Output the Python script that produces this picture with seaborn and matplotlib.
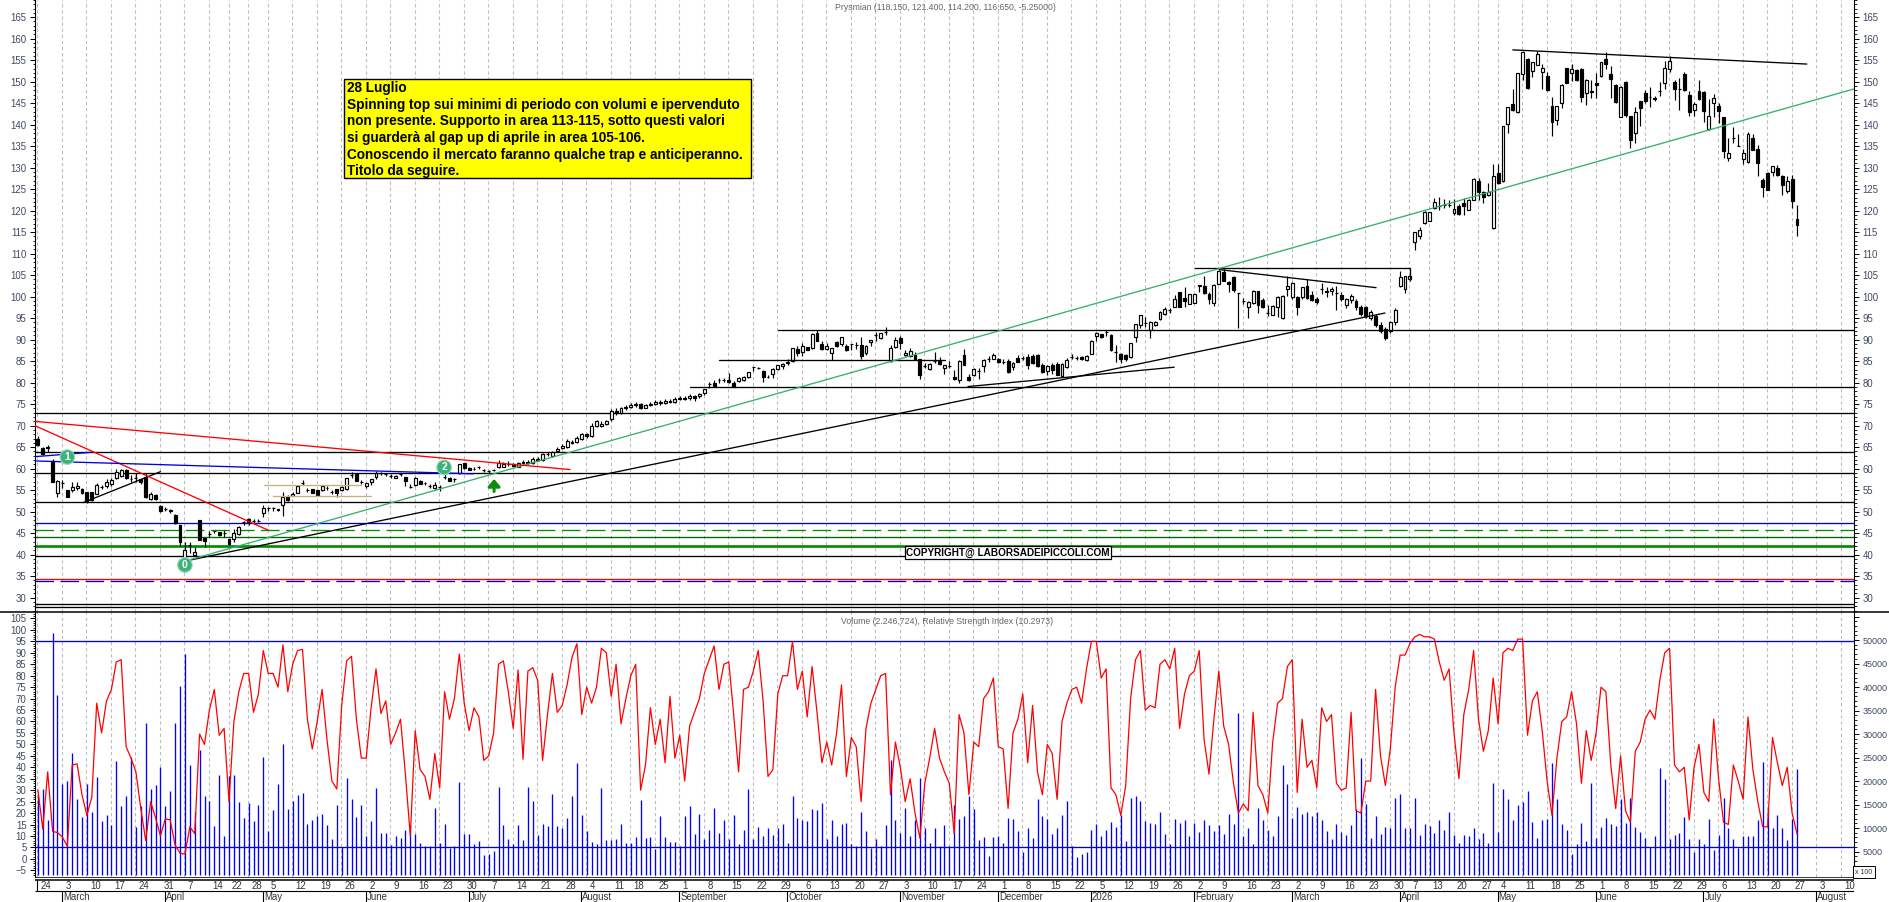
import pandas as pd
import numpy as np
import seaborn as sns
import matplotlib.pyplot as plt
from matplotlib.patches import Rectangle
from matplotlib.lines import Line2D
from matplotlib.ticker import MultipleLocator, FuncFormatter

# one row per week
opens = [66.9,64.8,64.9,61.7,54.4, 56.6,55.0,55.0,55.4,55.2, 54.5,54.5,54.1,55.7,56.0, 56.5,57.8,58.2,59.7,57.6, 57.8,57.5,58.0,52.9,53.9,
         51.4,50.6,50.3,49.2,46.9, 38.7,42.2,39.9,48.0,43.8, 44.8,45.4,45.2,45.0, 43.6,43.6,44.7,47.5, 48.2,47.9,47.9,49.6,
         50.8,50.8,50.6,51.6,53.5, 53.7,54.4,56.6,55.0,55.2, 55.0,55.0,55.5,54.6,55.2, 55.0,55.2,58.6,58.8,56.8,
         56.0,56.8,58.0,58.9,58.7, 58.3,57.9,58.8,58.0,55.8, 56.1,57.2,56.6,56.0,55.4, 55.8,58.0,57.8,57.6,58.9,
         61.3,60.2,60.0,60.3,59.6, 59.4,59.6,60.3,60.5,61.0, 61.0,60.5,61.3,61.6,61.4, 62.3,62.0,63.3,63.0,64.2,
         64.8,65.0,66.3,66.2,67.0, 68.0,67.5,70.0,70.0,70.5, 71.5,73.5,73.0,74.0, 74.3,74.8,75.0,74.2,74.8,
         75.0,75.5,75.2,75.8,75.6, 76.2,76.4,76.4,76.9,76.8, 77.7,79.7,79.9,80.6,80.6, 80.7,80.0,80.3,80.6,81.4,
         83.6,83.4,82.7,81.4,82.0, 83.2,83.9,84.5,85.0,87.9, 87.2,88.2,88.0,91.5,89.0, 87.9,87.0,89.4,89.0,88.6,
         88.9,88.7,88.8,86.9,89.4, 91.1,90.3,91.7,85.1,88.4, 90.4,86.4,86.3,86.4,85.5, 83.9,83.1,85.0,85.0,83.5,
         83.8,81.4,80.6,86.5,81.4, 81.7,82.7,83.8,85.5,85.5, 85.5,84.9,85.1,83.7,85.7,85.7, 85.9,86.2,86.5,84.1,82.8,
         84.1,84.4,81.6,83.6,86.0, 85.8,85.9,85.2,86.7,90.9, 91.3,91.7,91.1,87.2,86.7, 86.5,86.0,90.7,93.4,93.8,
         92.2,93.3,94.9,95.9,97.0, 97.7,101.0,99.6,98.3,98.6, 102.4,102.4,100.6,98.5,103.0, 105.8,103.5,104.5,100.8,99.0,
         97.7,98.5,101.3,99.2,96.1, 95.8,97.7,95.0,101.9,100.0, 100.0,100.0,102.5,100.4,99.5, 101.7,101.0,101.3,100.9,100.5,
         98.0,99.2,99.0,97.6,97.5, 95.0,95.5,93.5,92.5,92.0, 94.0,102.5,101.7,104.1, 112.7,114.2,117.1,117.7,
         120.6,121.2,121.4,121.4,119.4, 121.2,121.7,120.2,122.5,127.0, 124.3,123.6,116.0,128.8, 126.8,140.2,144.8,142.9,151.8,
         155.2,152.4,153.9,152.3,151.4, 144.3,141.0,145.0,153.2,152.0, 152.7,153.0,147.4,147.9,149.6, 151.3,155.3,151.8,149.2,141.8,
         150.0,142.0,138.0,145.4,147.4, 146.5,146.2,147.9,149.6,153.0, 150.0,148.2,151.9,147.0,143.4, 147.9,147.5,138.9,145.0,144.4,
         141.8,132.3,136.8,135.1,132.0, 131.3,136.9,134.3,127.2,128.8, 128.9,129.9,128.0,124.5,127.4, 118.15]
closes = [65.5,63.4,65.0,57.0,57.2, 56.6,53.3,55.8,56.0,54.3, 52.6,52.7,56.2,55.7,57.0, 57.4,59.3,59.7,57.8,57.6, 57.8,56.8,53.3,54.0,52.9,
          50.2,50.6,50.2,47.3,43.0, 41.2,42.2,40.7,43.4,43.2, 44.8,45.4,44.6,45.0, 42.4,45.0,46.5,47.5, 47.7,47.9,47.9,50.9,
          50.8,50.8,50.3,53.5,52.7, 54.1,56.0,56.6,55.0,54.4, 53.9,56.0,55.5,54.6,54.3, 55.8,57.8,58.6,57.2,56.8,
          56.6,57.5,59.1,58.9,58.7, 58.3,58.3,58.8,57.2,55.8, 57.8,56.5,56.6,56.0,56.2, 55.8,58.0,57.2,57.6,61.0,
          60.1,59.7,60.0,60.3,59.6, 59.4,59.6,61.3,61.0,61.2, 60.6,61.3,61.6,61.4,62.3, 62.1,63.3,63.4,63.8,64.6,
          65.2,66.5,66.0,67.2,68.0, 67.5,70.0,71.0,70.5,71.0, 73.5,73.0,74.0,74.3, 74.8,75.0,74.2,74.8,75.0,
          75.5,75.2,75.8,75.6,76.2, 76.4,76.2,77.0,76.4,77.3, 78.5,79.7,79.3,80.6,80.6, 80.2,79.0,81.2,81.3,82.4,
          83.6,83.4,81.4,81.4,83.1, 84.0,84.4,84.8,88.0,87.0, 88.5,87.5,91.3,89.8,87.9, 88.6,88.0,88.5,90.6,87.5,
          88.9,88.7,86.1,88.6,90.0, 91.1,91.5,91.7,88.0,90.0, 89.2,87.0,87.4,85.5,81.9, 83.9,84.4,85.0,84.4,84.0,
          83.8,80.9,85.0,84.2,80.6, 83.2,82.7,85.3,85.5,86.4, 84.7,84.9,82.6,84.5,84.9,85.7, 84.1,84.5,83.8,82.6,83.9,
          83.0,81.8,84.4,85.3,86.0, 85.8,85.5,86.2,89.8,91.5, 90.7,91.7,87.5,87.2,85.5, 85.4,89.2,93.6,95.7,93.8,
          94.2,94.0,96.5,97.2,97.0, 99.4,97.7,99.0,100.6,100.6, 102.7,100.8,99.4,102.8,106.0, 103.7,102.9,101.6,100.8,99.0,
          98.7,101.4,98.1,97.5,96.1, 97.9,100.0,100.2,102.5,103.3, 97.7,102.2,99.6,99.3,98.8, 101.7,101.4,101.9,100.9,99.5,
          99.5,100.2,97.5,96.0,95.5, 96.4,93.5,92.0,90.5,94.0, 97.0,104.5,104.7,104.7, 115.0,115.4,119.8,119.6,
          122.0,121.2,121.4,121.4,120.4, 119.3,121.0,122.5,127.4,124.4, 123.3,124.3,128.1,126.4, 139.6,144.0,143.4,152.0,157.0,
          148.6,154.5,156.5,153.1,148.0, 140.6,144.3,149.3,149.7,153.0, 150.3,146.5,150.5,147.5,149.3, 154.5,154.1,150.7,145.2,148.8,
          142.3,136.4,143.0,143.9,145.4, 146.5,146.0,147.9,153.2,154.7, 148.4,148.2,148.0,142.9,144.9, 146.0,143.1,142.0,146.2,143.1,
          133.8,133.4,136.8,135.1,133.4, 137.8,134.2,131.2,125.4,124.9, 130.3,128.2,125.9,126.9,122.2, 116.65]
highs = [67.5,65.0,65.6,62.2,57.3, 57.4,55.0,56.8,57.0,55.6, 54.6,54.6,56.6,56.2,57.5, 57.8,60.0,60.0,60.0,58.5, 59.0,57.7,59.0,54.5,54.1,
         51.5,51.0,50.6,49.4,47.0, 43.0,43.0,41.8,48.1,43.9, 45.5,45.6,45.3,45.7, 43.7,46.0,46.7,47.9, 48.6,48.4,48.3,51.5,
         51.2,51.2,50.7,54.5,53.8, 54.6,56.1,57.3,55.6,55.3, 55.1,56.2,55.9,55.0,55.3, 55.9,57.9,59.3,58.9,57.3,
         56.7,57.6,59.4,59.3,59.1, 58.8,58.6,59.1,58.1,56.4, 58.0,57.3,57.0,56.4,57.0, 56.1,58.9,58.0,57.9,61.2,
         61.4,60.3,60.3,60.7,59.9, 59.8,60.0,62.0,61.6,61.8, 61.3,61.6,62.0,62.0,62.8, 62.7,63.6,63.9,64.2,65.1,
         65.7,66.9,66.7,67.6,68.3, 68.4,70.6,71.4,71.0,71.4, 73.9,74.0,74.4,74.8, 75.2,75.5,75.2,75.1,75.5,
         75.9,75.9,76.1,76.1,76.6, 76.8,76.8,77.4,77.1,77.6, 78.6,80.2,80.6,81.0,81.0, 82.3,80.3,81.4,81.5,82.6,
         83.7,83.7,83.0,81.8,83.3, 84.2,84.6,85.4,88.1,88.5, 89.3,88.3,91.5,92.2,89.8, 89.3,88.0,89.6,90.7,89.0,
         89.0,89.5,90.6,88.7,90.0, 91.8,91.6,93.0,88.7,90.6, 90.8,87.5,88.0,87.2,85.5, 84.5,84.5,87.2,86.0,84.1,
         85.1,83.0,85.3,87.9,82.0, 83.4,83.5,85.4,86.1,86.9, 85.7,85.4,85.6,84.7,86.4,86.3, 86.6,86.6,86.6,84.5,84.2,
         84.5,84.7,84.6,85.8,86.6, 86.3,86.2,86.4,89.9,91.7, 91.4,92.3,91.3,88.7,86.9, 86.6,89.3,93.7,95.8,95.3,
         94.3,94.4,96.7,97.5,97.3, 100.4,101.2,102.3,100.7,100.7, 102.8,104.8,101.2,102.9,106.1, 106.5,103.6,104.7,100.9,99.6,
         98.9,101.5,101.4,99.8,98.0, 98.0,100.1,100.3,104.7,103.4, 100.1,102.3,104.0,101.4,100.0, 103.1,102.2,102.2,102.5,101.0,
         99.8,100.6,99.4,98.0,97.9, 96.8,95.9,94.0,93.0,94.4, 97.4,106.0,104.9,105.0, 115.1,116.1,119.9,119.8,
         122.9,123.1,122.7,122.5,122.7, 121.5,123.0,122.7,127.5,127.6, 124.5,126.5,130.9,130.9, 139.7,144.1,148.2,152.1,157.2,
         155.4,154.6,157.2,154.0,152.3, 146.5,144.4,149.4,153.3,154.2, 152.9,153.1,150.6,150.5,152.1, 154.6,157.0,153.6,149.4,149.0,
         150.1,142.1,144.0,145.6,148.0, 148.7,146.6,150.0,154.7,156.0, 150.4,150.9,152.2,147.8,145.2, 150.5,147.9,145.9,147.2,145.0,
         141.9,136.9,139.5,137.9,134.4, 138.2,137.8,135.2,127.6,129.0, 130.4,130.7,128.4,128.0,128.4, 121.4]
lows = [65.3,63.1,63.9,57.0,53.5, 55.6,53.3,54.5,55.0,54.1, 52.0,52.5,54.0,55.2,55.5, 55.9,57.7,58.1,57.5,56.8, 57.0,56.5,53.1,52.8,52.8,
        50.0,50.1,49.6,47.2,42.1, 38.6,40.3,39.8,43.3,41.8, 44.0,45.0,44.3,44.2, 42.3,43.0,44.6,47.0, 47.0,47.3,47.6,48.8,
        50.2,50.2,50.2,49.0,52.6, 53.6,54.3,56.3,54.6,54.3, 53.8,54.9,55.1,54.2,53.5, 54.9,55.1,57.9,57.1,56.4,
        55.6,56.2,57.7,58.5,58.3, 57.9,57.8,58.3,56.0,55.4, 56.0,56.4,56.3,55.6,55.3, 54.9,57.5,57.1,57.0,58.8,
        60.0,59.6,59.7,59.9,59.3, 59.1,59.4,60.2,60.3,60.6, 60.4,60.3,61.0,61.0,61.1, 61.7,61.8,62.9,62.8,63.9,
        64.5,64.8,65.7,65.9,66.6, 67.2,67.3,69.6,69.6,70.1, 71.2,72.6,72.8,73.6, 74.0,74.4,73.8,74.0,74.5,
        74.7,74.9,75.0,75.2,75.3, 75.9,75.9,76.0,75.8,76.5, 77.2,78.7,79.0,80.0,80.2, 79.9,78.9,80.1,80.4,81.2,
        82.8,83.1,80.1,81.0,81.0, 83.0,83.2,84.1,84.7,86.2, 86.3,87.5,87.9,89.8,87.5, 87.5,85.3,88.2,88.5,87.4,
        87.5,87.8,85.5,86.5,88.5, 89.8,90.1,91.0,84.7,88.0, 87.8,86.2,86.0,85.2,80.8, 83.5,83.0,84.5,84.0,82.0,
        83.5,80.7,80.0,84.1,80.4, 81.6,80.8,82.5,84.9,85.4, 84.5,84.4,82.2,83.0,84.7,85.2, 83.2,84.3,83.7,82.3,81.8,
        82.0,81.7,81.3,83.4,85.4, 85.3,85.3,85.1,86.6,89.6, 90.5,90.9,87.4,84.7,84.5, 85.0,85.8,89.5,92.8,92.9,
        90.5,93.1,94.6,95.7,96.2, 97.6,97.6,97.7,98.2,98.5, 101.0,100.7,98.2,97.9,102.9, 103.6,101.2,101.2,92.7,98.3,
        95.1,98.4,96.3,97.4,95.6, 95.7,95.2,94.9,100.2,99.4, 95.8,99.4,99.4,99.0,98.3, 100.7,100.0,100.4,97.0,99.0,
        97.4,98.6,97.0,95.5,95.0, 94.5,93.0,91.5,90.0,91.6, 93.5,102.2,100.8,103.7, 110.9,113.5,117.0,117.6,
        120.4,120.2,120.6,120.8,119.0, 118.9,118.9,120.1,122.4,122.5, 121.8,123.4,115.8,126.2, 126.7,138.0,143.3,142.7,150.3,
        148.3,151.2,153.8,148.2,147.8, 137.3,140.0,143.8,149.6,150.2, 150.2,145.2,144.6,146.1,146.1, 151.1,153.0,146.2,145.0,141.7,
        141.7,134.6,135.7,139.8,145.0, 144.0,145.6,146.6,148.2,152.3, 145.8,143.4,147.9,142.1,142.1, 145.8,140.7,138.8,141.9,140.3,
        132.3,131.5,135.8,135.0,130.9, 131.2,134.0,128.1,123.3,124.7, 128.0,128.1,123.6,124.0,120.6, 114.2]

volumes = [16900,18400,11800,51400,38200, 19400,20100,26000,16200,12400, 19400,13500,20800,11400,12800, 10600,24200,14600,16900,25100,
           10200,14600,32400,18400,19200, 22900,14600,17800,32400,40300, 47100,23500,13400,26500,16900, 15700,10400,21300,8400,
           21000,21200,15500,12200,15400, 11400,15000,25200,9300,13800, 19400,27900,14100,15700,17100, 17500,10900,11800,12500,13000,
           10600,7600,15000,6000,20700, 16200,12300,15000,8200,11400, 18600,9000,9000,6300,8200, 7900,9500,10700,8800,6900,
           6200,6200,14300,6900,10900, 5800,6200,19800,8800,8800, 6700,7200,4300,4500,5200, 18700,10600,7700,6700,10700,
           7400,18700,15700,8600,10900, 10400,17300,10400,9900,12200, 16900,23900,12700,9300,7000, 6700,18600,7400,7500,7600,
           10900,6900,6900,8100,
           16000,7900,8100,5600,12600, 8100,7000,7000,6200,12500, 14600,8800,13000,7700,9600, 14300,9000,11800,7700,12800,
           6500,9500,18200,7600,10300, 8400,9900,8600,10000,10800, 6900,16900,12200,11800,11400, 14000,13800,15400,7700,11600,
           8200,10800,11100,6700,6200, 13500,9300,5800,7600,6200, 10600,24500,11600,8900,14300, 8200,11800,20700,10000,6900,
           10100,6200,10600,6200,14800, 12000,12500,16900,14100,7400, 8000,4000,8000,8400,6900, 12200,12000,9300,4900,9900,
           7900,16200,12500,12000,8800, 9900,12800,15800,6200,3900, 4500,5000,9600,10900,8400, 9500,11300,10200,12700,7200,
           16400,16900,15800,11400,11100, 10800,13300,8800,6500,12000, 11100,11600,8400,11100,9100, 11800,10700,9300,10700,8800,
           13000,10900,34500,8400,10100, 6700,
           14300,11800,9600,8400,12500, 23300,19400,12200,14500,13000, 13300,12500,13500,11800,9400, 7700,10900,9200,8600,10700,
           14100,25000,15200,7900,12500, 8800,10200,9900,16400,17300, 9900,9900,16400,8600,10900, 10400,9000,11600,9600,13500,
           8600,6900,8600,8200,9900, 7600,9000,6900,19600,9200, 18400,16200,11600,14800,15500, 17900,11300,7900,11600,12000,
           23900,16200,10900,9600,4500, 6500,11100,7300,19600,7900, 10300,12200,10900,10500,16200, 11100,16400,10300,9200,7900,
           6000,8400,22800,20500,7700, 8600,9000,12400,7700,5000, 7700,6700,12000,5400,8600, 16400,10100,7700,5800,8200,
           8400,8200,11800,24100,14200, 10100,12800,10100,7500,12000, 22600]

rsi = [30,13,38,12,11.5, 9.5,5.5,41,41.5,28, 19,27,68,55,69, 74,86,87,49,44, 38,22,8,25,18, 10,17.5,17,6,2.5, 2,14,11,54.5,50,
       65,74,54,57, 25,60,73,81, 81,64,72,91,81, 81,75,93.5,73,85, 91,91.5,61,48,60, 74,52,34,30.5,67, 86.5,88.5,61,44,44,
       66,83,63.5,69,50, 55,61,37,10,56, 39,36,26,46,31, 73,61,70,89.5,68, 56,66,62,43,45, 55,85,86.5,73,57, 82.5,43.5,82,83.5,78,
       43,63,81,64,67, 76,88,94,63,75, 68,75,92,90,71, 85,59,70,80,85,
       30,41,66,50,61, 42,71,44,54,34, 58,64,70,81,87, 93,74,85,86,63, 38,74,75,82,91, 69,36,39,72,80, 80,95,74,82,62, 84,64,42,51,41,
       55,76,36,53,49, 25,57,68,74,80, 81,28,51,40,25, 35,20,9,33,44, 57,44,38,33,11, 63,55,28,51,49, 70,73,79,49,48, 22,55,61,72,42,
       67,38,28,50,46, 26,60,68,74,75, 68,83,95,95,79, 83,31,28,19,32, 70,87,91,65,67, 66,85,87,83,92, 57,72,80,82,91, 52,37,61,82,58,
       50,33,20,24,21,
       64,32,28,20,51, 68,70,84,87,29, 61,40,43,31,66, 60,63,33,30,31, 64,21,20,34,34, 74,45,32,48,75, 89,89,94,97,98, 97,97,96,86,78,
       83,55,35,63,74, 91,61,47,56,79, 59,90,92,91,96, 96,54,69,73,56, 34,19,44,60,62, 73,59,33,56,43, 55,75,73,41,22, 45,21,16,47,51,
       61,65,61,78,90, 92,41,38,40,17, 40,50,29,25,61, 35,16,15,41,34, 26,62,39,25,14, 14,53,42,32,40, 20,11]

price_levels = [73.0, 63.8, 59.0, 52.2, 39.8, 28.6, 27.9]
holidays = ["2025-04-18", "2025-04-21", "2025-05-01", "2025-08-15", "2025-12-24", "2025-12-25", "2025-12-26",
            "2025-12-31", "2026-01-01", "2026-04-03", "2026-04-06", "2026-05-01"]
annotation_lines = ["28 Luglio",
                    "Spinning top sui minimi di periodo con volumi e ipervenduto",
                    "non presente. Supporto in area 113-115, sotto questi valori",
                    "si guarderà al gap up di aprile in area 105-106.",
                    "Conoscendo il mercato faranno qualche trap e anticiperanno.",
                    "Titolo da seguire."]

sns.set_theme(style="white")
plt.rcParams["font.family"] = ["Liberation Sans", "DejaVu Sans"]

W, H = 1890, 902
LEFT, RIGHT = 35, 1854
SEP, BASE = 612.3, 876.7
X0, STEP = 37.9, 4.9
THIN = 0.95

def fx(px):
    return px / W

def fy(py):
    return 1 - py / H

def panel(top, bottom):
    return fig.add_axes([fx(LEFT), fy(bottom), fx(RIGHT - LEFT), (bottom - top) / H])

days = pd.bdate_range("2025-02-24", "2026-08-14")
days = days[~days.isin(pd.to_datetime(holidays))]
bars = np.arange(len(days))
week = days.to_period("W")
week_starts = [i for i in bars if i == 0 or week[i] != week[i - 1]]
week_starts = [i for i in week_starts if days[i] != pd.Timestamp("2025-12-29")]
month = days.to_period("M")
month_starts = [i for i in bars if i > 0 and month[i] != month[i - 1]]
xlim = ((LEFT - X0) / STEP, (RIGHT - X0) / STEP)

fig = plt.figure(figsize=(W / 100, H / 100), dpi=100)
ax = panel(0, SEP)
ax_vol = panel(SEP, BASE)
ax_rsi = ax_vol.twinx()
ax_dates = panel(BASE, H)

grid_style = dict(color="#bdbdbd", lw=0.8, dashes=(3, 2.5), zorder=0)
for a in (ax, ax_vol):
    for i in week_starts:
        a.axvline(i - 0.1, **grid_style)

# candles
o, c, h, l = map(np.array, (opens, closes, highs, lows))
candle_x = np.arange(len(o))
ax.vlines(candle_x, l, h, color="black", lw=0.85, zorder=3)
up = c >= o
ax.bar(candle_x[up], (c - o)[up], bottom=o[up], width=0.58, facecolor="white", edgecolor="black", lw=0.85, zorder=4)
ax.bar(candle_x[~up], (o - c)[~up], bottom=c[~up], width=0.58, facecolor="black", edgecolor="black", lw=0.85, zorder=4)

# levels and drawn trendlines
long_dash = (14, 5)
for lv in price_levels:
    ax.axhline(lv, color="black", lw=THIN, zorder=2)
ax.axhline(47.3, color="#0000d0", lw=THIN, zorder=2)
ax.axhline(45.7, color="#009000", lw=THIN, dashes=long_dash, zorder=2)
ax.axhline(44.0, color="#006400", lw=THIN, zorder=2)
ax.axhline(42.0, color="#008a00", lw=1.9, zorder=2)
ax.axhline(34.4, color="red", lw=THIN, zorder=2)
ax.axhline(33.8, color="#0000d0", lw=THIN, dashes=long_dash, zorder=2)

black_segments = [(133.0, 79.0, 370.6, 79.0), (151.0, 92.2, 370.6, 92.2), (139.0, 85.2, 185.1, 85.2),
                  (236.1, 106.6, 280.1, 106.6), (280.1, 106.6, 280.1, 104.0), (241.1, 106.3, 273.1, 102.1),
                  (301.0, 157.4, 361.0, 154.1), (189.8, 79.1, 231.9, 83.6), (30.0, 38.5, 274.9, 96.2),
                  (9.2, 52.1, 25.0, 59.3)]
green_segments = [(30.0, 38.5, 370.6, 148.3)]
red_segments = [(-0.6, 71.0, 108.6, 59.8), (-0.6, 70.0, 47.0, 45.7)]
blue_segments = [(-0.6, 61.8, 88.8, 58.8), (-0.6, 62.8, 10.8, 63.8)]
tan_segments = [(46.2, 56.1, 66.0, 56.1), (48.0, 53.6, 68.0, 53.6)]
for segs, col in [(black_segments, "black"), (green_segments, "#35b06e"), (red_segments, "red"),
                  (blue_segments, "#0000e0"), (tan_segments, "#c9ae80")]:
    for x1, y1, x2, y2 in segs:
        ax.plot([x1, x2], [y1, y2], color=col, lw=THIN, zorder=5)

# numbered points and the arrow
for lab, x, y in [("0", 30.0, 37.6), ("1", 6.0, 62.7), ("2", 82.9, 60.3)]:
    ax.text(x, y, lab, ha="center", va="center", fontsize=7.5, fontweight="bold", color="white", zorder=7,
            bbox=dict(boxstyle="circle,pad=0.22", fc="#3cb37a", ec="#9ad8b8", lw=0.8))
ax.annotate("", xy=(93.1, 57.6), xytext=(93.1, 54.7),
            arrowprops=dict(arrowstyle="-|>,head_width=0.3,head_length=0.35", color="#0f8a10", lw=2.2,
                            shrinkA=0, shrinkB=0), zorder=7)

ax.set_xlim(xlim)
ax.set_ylim(26.6, 169.0)
ax.set_xticks([])
ax.yaxis.set_major_locator(MultipleLocator(5))
ax.yaxis.set_minor_locator(MultipleLocator(1))
ax_r = ax.twinx()
ax_r.set_ylim(ax.get_ylim())
ax_r.yaxis.set_major_locator(MultipleLocator(5))
ax_r.yaxis.set_minor_locator(MultipleLocator(1))

# volume and rsi
ax_vol.vlines(np.arange(len(volumes)), 0, volumes, color="#0000ff", lw=0.95, zorder=2)
ax_vol.set_xlim(xlim)
ax_vol.set_ylim(-361, 55894)
ax_vol.set_xticks([])
ax_vol.yaxis.tick_right()
ax_vol.yaxis.set_major_locator(MultipleLocator(5000))
ax_vol.yaxis.set_minor_locator(MultipleLocator(1000))
ax_vol.yaxis.set_major_formatter(FuncFormatter(lambda v, _: f"{v:.0f}" if 0 < v <= 50000 else ""))

rsi_df = pd.DataFrame({"bar": np.arange(len(rsi)), "rsi": rsi})
sns.lineplot(data=rsi_df, x="bar", y="rsi", ax=ax_rsi, color="red", lw=0.9, zorder=5)
ax_rsi.axhline(95, color="#0000e0", lw=THIN, zorder=4)
ax_rsi.axhline(5, color="#0000e0", lw=THIN, zorder=4)
ax_rsi.set_xlim(xlim)
ax_rsi.set_ylim(-7.8, 107.7)
ax_rsi.set_xlabel("")
ax_rsi.set_ylabel("")
ax_rsi.yaxis.tick_left()
ax_rsi.yaxis.set_major_locator(MultipleLocator(5))
ax_rsi.yaxis.set_minor_locator(MultipleLocator(1))

label_col = "#3d4a63"
for a, side in [(ax, "left"), (ax_r, "right"), (ax_vol, "right"), (ax_rsi, "left")]:
    a.tick_params(axis="y", which="major", length=3.6, width=0.7, color="black", labelsize=6.9, labelcolor=label_col,
                  pad=2.5, left=side == "left", right=side == "right", labelleft=side == "left", labelright=side == "right")
    a.tick_params(axis="y", which="minor", length=1.8, width=0.6, color="black",
                  left=side == "left", right=side == "right")
    for s in a.spines.values():
        s.set_visible(False)
    a.spines[side].set_visible(True)
    a.spines[side].set_color("black")
    a.spines[side].set_linewidth(0.8)
ax_vol.tick_params(axis="y", which="major", labelsize=6.5)
ax_r.patch.set_visible(False)
ax_rsi.patch.set_visible(False)

# date strip
ax_dates.set_xlim(xlim)
ax_dates.set_ylim(H, BASE)
ax_dates.axis("off")
ax_dates.hlines([BASE, 880, 891], xlim[0], xlim[1], color="black", lw=[1.1, 1.1, 0.8])
for i in week_starts:
    ax_dates.text(i + 0.6, 885.7, str(days[i].day), fontsize=6.9, color="#333333", va="center", ha="left")
for i in month_starts:
    ax_dates.vlines(i - 0.1, 891, H, color="black", lw=0.8)
    name = "2026" if days[i].month == 1 else days[i].strftime("%B")
    ax_dates.text(i + 0.1, 896.5, name, fontsize=6.9, color="#333333", va="center", ha="left")
ax_dates.vlines(-0.1, 880, 891, color="black", lw=0.8)

# long separator and titles
fig.add_artist(Line2D([0, 1], [fy(SEP), fy(SEP)], color="black", lw=1.1))
fig.text(fx(945), fy(8), "Prysmian (118.150, 121.400, 114.200, 116.650, -5.25000)",
         fontsize=6.2, color="#666666", ha="center", va="center")
fig.text(fx(947), fy(622), "Volume (2.246,724), Relative Strength Index (10.2973)",
         fontsize=6.3, color="#666666", ha="center", va="center")
fig.text(fx(1864), fy(872), "x 100", fontsize=5, color="#333333", ha="center", va="center",
         bbox=dict(fc="white", ec="black", lw=0.7, pad=1.5))

# comment box
fig.add_artist(Rectangle((fx(344), fy(178)), fx(751 - 344), 99 / H, facecolor="#ffff00", edgecolor="black",
                         lw=1.0, transform=fig.transFigure, zorder=8))
fig.text(fx(347), fy(81), "\n".join(annotation_lines), fontsize=9.8, fontweight="bold", color="black",
         va="top", ha="left", linespacing=1.24, zorder=9)

# copyright
fig.text(fx(1008), fy(552.5), "COPYRIGHT@ LABORSADEIPICCOLI.COM", fontsize=7.2, fontweight="bold", color="black",
         ha="center", va="center", zorder=9, bbox=dict(fc="white", ec="black", lw=0.9, pad=1))

fig.savefig("out.png", dpi=100)
